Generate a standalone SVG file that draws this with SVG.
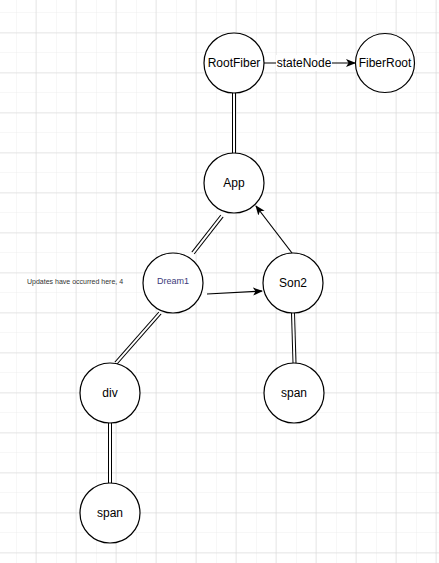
<svg xmlns="http://www.w3.org/2000/svg" width="439" height="563" viewBox="0 0 439 563">
<defs>
<pattern id="minor" width="20" height="20" patternUnits="userSpaceOnUse" x="17" y="13">
<path d="M20 0V20M0 20H20" fill="none" stroke="#eeeeee" stroke-width="1"/>
</pattern>
<pattern id="major" width="40" height="40" patternUnits="userSpaceOnUse" x="-3.5" y="-6.5">
<path d="M40 0V40M0 40H40" fill="none" stroke="#d4d4d4" stroke-width="1"/>
</pattern>
<marker id="arr" viewBox="0 0 10 10" refX="9" refY="5" markerWidth="10" markerHeight="10" markerUnits="userSpaceOnUse" orient="auto">
<path d="M0 1L10 5L0 9L2.5 5Z" fill="#000"/>
</marker>
</defs>
<style>
.node circle{fill:#fff;stroke:#000;stroke-width:1.2}
.lbl{font-family:"Liberation Sans",Arial,sans-serif;font-size:12px;fill:#000;text-anchor:middle;dominant-baseline:central}
.dbl-o{stroke:#000;stroke-width:4;fill:none}
.dbl-i{stroke:#fff;stroke-width:2;fill:none}
.arrow{stroke:#000;stroke-width:1.2;fill:none;marker-end:url(#arr)}
</style>
<rect width="439" height="563" fill="#fff"/>
<rect width="439" height="563" fill="url(#minor)"/>
<rect width="439" height="563" fill="url(#major)"/>

<g id="connectors">
<g id="e-rootfiber-app"><line class="dbl-o" x1="234" y1="93" x2="234" y2="153"/><line class="dbl-i" x1="234" y1="92" x2="234" y2="154"/></g>
<g id="e-app-dream1"><line class="dbl-o" x1="222" y1="216" x2="193" y2="253"/><line class="dbl-i" x1="222.6" y1="215.2" x2="192.4" y2="253.8"/></g>
<g id="e-dream1-div"><line class="dbl-o" x1="160" y1="313" x2="116" y2="363"/><line class="dbl-i" x1="160.7" y1="312.2" x2="115.3" y2="363.8"/></g>
<g id="e-div-span"><line class="dbl-o" x1="110" y1="423" x2="110" y2="483"/><line class="dbl-i" x1="110" y1="422" x2="110" y2="484"/></g>
<g id="e-son2-span"><line class="dbl-o" x1="293" y1="313" x2="294.5" y2="363"/><line class="dbl-i" x1="293" y1="312" x2="294.5" y2="364"/></g>
<line id="e-rootfiber-fiberroot" class="arrow" x1="264" y1="63" x2="355" y2="63"/>
<g id="lbl-statenode"><rect x="276" y="55" width="56" height="16" fill="#fff"/><text class="lbl" x="304" y="63">stateNode</text></g>
<line id="e-son2-app" class="arrow" x1="292" y1="253" x2="256" y2="206"/>
<line id="e-dream1-son2" class="arrow" x1="207" y1="294" x2="262" y2="291"/>
</g>

<g id="n-rootfiber" class="node"><circle cx="234" cy="63" r="30"/><text class="lbl" x="234" y="63">RootFiber</text></g>
<g id="n-fiberroot" class="node"><circle cx="385" cy="63" r="29.5"/><text class="lbl" x="385" y="63">FiberRoot</text></g>
<g id="n-app" class="node"><circle cx="234" cy="183" r="30"/><text class="lbl" x="234" y="183">App</text></g>
<g id="n-dream1" class="node"><circle cx="173" cy="283" r="30"/><text class="lbl" x="173" y="280.5" style="font-size:9px;fill:#3d3a7a">Dream1</text></g>
<g id="n-son2" class="node"><circle cx="293" cy="283" r="30"/><text class="lbl" x="293" y="283">Son2</text></g>
<g id="n-div" class="node"><circle cx="110" cy="393" r="30"/><text class="lbl" x="110" y="393">div</text></g>
<g id="n-span1" class="node"><circle cx="110" cy="513" r="30"/><text class="lbl" x="110" y="513">span</text></g>
<g id="n-span2" class="node"><circle cx="294" cy="393" r="30"/><text class="lbl" x="294" y="393">span</text></g>

<text id="note" x="27" y="281" style="font-family:'Liberation Sans',Arial,sans-serif;font-size:7px;fill:#333;dominant-baseline:central">Updates have occurred here, 4</text>
</svg>
